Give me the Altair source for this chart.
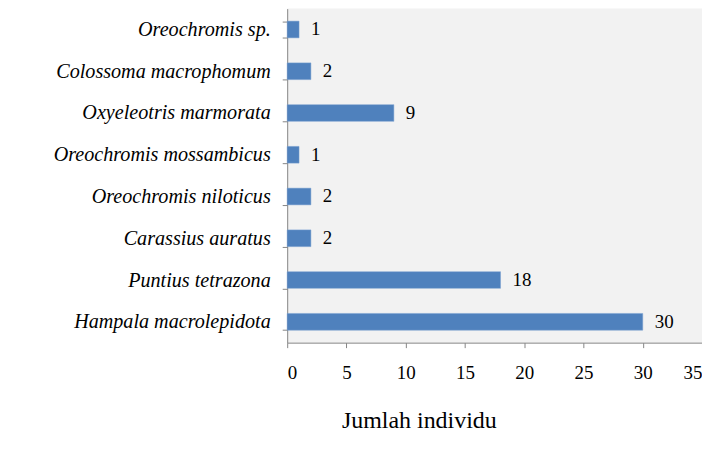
import altair as alt
import pandas as pd

species = ["Oreochromis sp.", "Colossoma macrophomum", "Oxyeleotris marmorata",
           "Oreochromis mossambicus", "Oreochromis niloticus", "Carassius auratus",
           "Puntius tetrazona", "Hampala macrolepidota"]
counts = [1, 2, 9, 1, 2, 2, 18, 30]
x_ticks = [0, 5, 10, 15, 20, 25, 30, 35]

df = pd.DataFrame({"species": species, "count": counts})

FONT = "Liberation Serif"

y = alt.Y("species:N", sort=species, title=None,
          scale=alt.Scale(paddingInner=0.6, paddingOuter=0.3),
          axis=alt.Axis(labelFont=FONT, labelFontStyle="italic", labelFontSize=20.2,
                        labelColor="black", labelPadding=12, labelLimit=300,
                        tickBand="extent",
                        tickSize=5, tickColor="#868686", domainColor="#868686"))
x = alt.X("count:Q", title="Jumlah individu",
          scale=alt.Scale(domain=[0, 35], nice=False),
          axis=alt.Axis(values=x_ticks, grid=False, labelFont=FONT, labelFontSize=19,
                        labelColor="black", labelPadding=16, tickSize=5,
                        tickColor="#868686", domainColor="#868686",
                        titleFont=FONT, titleFontSize=24, titleFontWeight="normal",
                        titleColor="black", titleX=132, titleY=78,
                        titleBaseline="middle", titleAlign="center"))

bars = alt.Chart(df).mark_bar(color="#4f81bd", stroke="#7aa0d0", strokeWidth=0.5).encode(x=x, y=y)
labels = alt.Chart(df).mark_text(align="left", dx=12, font=FONT, fontSize=19,
                                 color="black").encode(x="count:Q", y=alt.Y("species:N", sort=species),
                                                       text="count:Q")

chart = (bars + labels).properties(
    width=416, height=335,
    autosize=alt.AutoSizeParams(type="none"),
    padding={"left": 280, "top": 0, "right": 0, "bottom": 95},
).configure_view(fill="#f2f2f2", stroke=None)

chart.save("out.html", embed_options={"renderer": "svg", "actions": False})
